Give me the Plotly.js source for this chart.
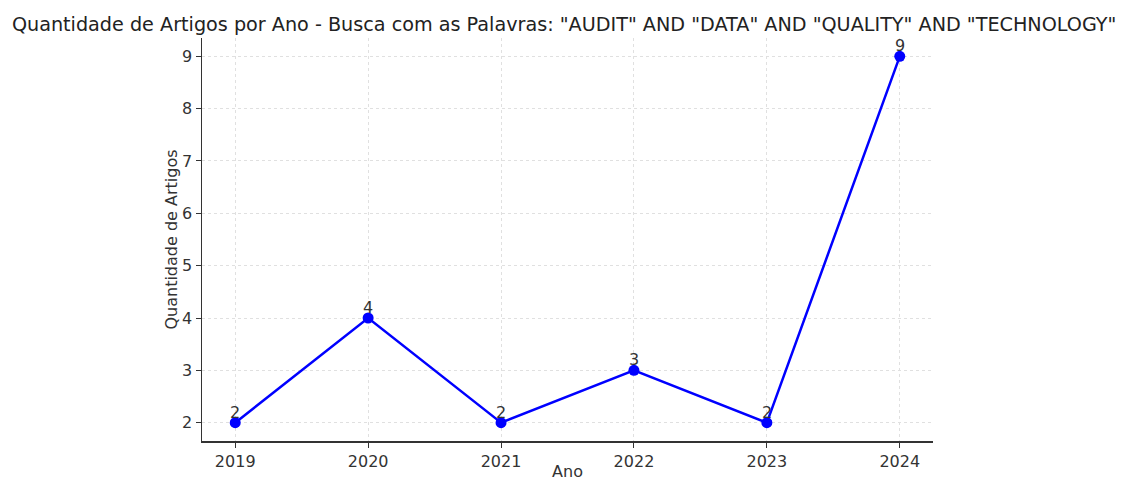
<!DOCTYPE html>
<html>
<head>
<meta charset="utf-8">
<script src="https://cdn.plot.ly/plotly-3.0.1.min.js"></script>
<style>html,body{margin:0;padding:0;background:#fff;}#chart{width:1126px;height:481px;}</style>
</head>
<body>
<div id="chart"></div>
<script>
const years = [2019, 2020, 2021, 2022, 2023, 2024];
const counts = [2, 4, 2, 3, 2, 9];
const yTicks = [2, 3, 4, 5, 6, 7, 8, 9];

const trace = {
  x: years,
  y: counts,
  mode: 'lines+markers',
  line: {color: '#0000ff', width: 2.5},
  marker: {color: '#0000ff', size: 11},
  cliponaxis: false,
  hoverinfo: 'x+y'
};

const labels = years.map((yr, i) => ({
  x: yr, y: counts[i], xref: 'x', yref: 'y',
  text: String(counts[i]), showarrow: false,
  xanchor: 'center', yanchor: 'bottom', yshift: -1,
  font: {family: 'DejaVu Sans', size: 16, color: '#333333'}
}));

const layout = {
  width: 1126, height: 481,
  margin: {l: 202, r: 193, t: 38, b: 40},
  paper_bgcolor: '#ffffff', plot_bgcolor: '#ffffff',
  font: {family: 'DejaVu Sans', color: '#333333', size: 16},
  title: {text: 'Quantidade de Artigos por Ano - Busca com as Palavras: "AUDIT" AND "DATA" AND "QUALITY" AND "TECHNOLOGY"',
          font: {family: 'DejaVu Sans', size: 19.2, color: '#222222'}, x: 0.501, xref: 'container', y: 0.95, yref: 'container', yanchor: 'middle'},
  annotations: labels,
  xaxis: {
    range: [2018.75, 2024.25],
    tickvals: years, ticktext: years.map(String),
    showgrid: true, gridcolor: '#e0e0e0', griddash: 'dot', gridwidth: 1,
    zeroline: false, showline: true, linecolor: '#333333', linewidth: 1.5,
    ticks: 'outside', ticklen: 5, tickcolor: '#333333',
    tickfont: {size: 16, color: '#333333'},
    title: {text: 'Ano', font: {size: 16, color: '#333333'}, standoff: 7}
  },
  yaxis: {
    range: [1.65, 9.35],
    tickvals: yTicks,
    showgrid: true, gridcolor: '#e0e0e0', griddash: 'dot', gridwidth: 1,
    zeroline: false, showline: true, linecolor: '#333333', linewidth: 1.5,
    ticks: 'outside', ticklen: 5, tickcolor: '#333333',
    tickfont: {size: 16, color: '#333333'},
    title: {text: 'Quantidade de Artigos', font: {size: 16, color: '#333333'}, standoff: 0}
  },
  showlegend: false
};

Plotly.newPlot('chart', [trace], layout, {displayModeBar: false, staticPlot: true});
</script>
</body>
</html>
